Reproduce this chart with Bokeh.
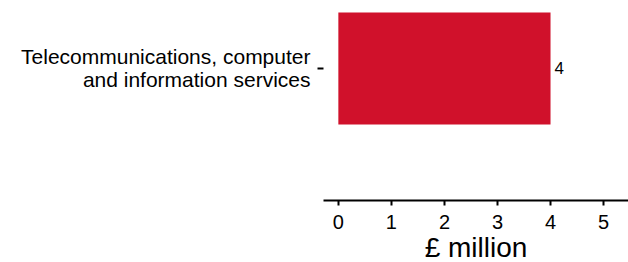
from bokeh.plotting import figure
from bokeh.models import Range1d, FixedTicker
from bokeh.core.properties import value
from bokeh.embed import file_html
from bokeh.resources import INLINE

categories = ["Telecommunications, computer\nand information services"]
values = [4]
x_ticks = [0, 1, 2, 3, 4, 5]
y_pos = [0]

FONT = "Liberation Sans"

p = figure(frame_width=305, frame_height=192, output_backend="svg", toolbar_location=None,
           x_range=Range1d(-0.28, 5.47), y_range=Range1d(-1.1786, 0.5357),
           min_border_left=323, min_border_right=0, min_border_top=8, min_border_bottom=54)
p.outline_line_color = None
p.xgrid.visible = False
p.ygrid.visible = False

p.hbar(y=y_pos, left=0, right=values, height=1.0, color="#D0112B", line_color=None)
p.text(x=values, y=y_pos, text=[str(v) for v in values], x_offset=4,
       text_baseline="middle", text_align="left", text_font=value(FONT),
       text_font_size="17px", text_color="black")

xa = p.xaxis[0]
xa.ticker = FixedTicker(ticks=x_ticks)
xa.axis_line_width = 2
xa.axis_line_color = "black"
xa.major_tick_line_width = 2
xa.major_tick_in = 0
xa.major_tick_out = 5
xa.minor_tick_line_color = None
xa.major_label_text_font = FONT
xa.major_label_text_font_size = "20px"
xa.major_label_text_color = "black"
xa.major_label_standoff = 9
xa.axis_label = "£ million"
xa.axis_label_text_font = FONT
xa.axis_label_text_font_size = "28px"
xa.axis_label_text_font_style = "normal"
xa.axis_label_text_color = "black"
xa.axis_label_standoff = 0

ya = p.yaxis[0]
ya.ticker = FixedTicker(ticks=y_pos)
ya.major_label_overrides = {y: c for y, c in zip(y_pos, categories)}
ya.axis_line_color = None
ya.major_tick_line_width = 2
ya.major_tick_in = 0
ya.major_tick_out = 6
ya.minor_tick_line_color = None
ya.major_label_text_font = FONT
ya.major_label_text_font_size = "21px"
ya.major_label_text_line_height = 1.0
ya.major_label_text_color = "black"
ya.major_label_standoff = 7

open("out.html", "w").write(file_html(p, INLINE))
